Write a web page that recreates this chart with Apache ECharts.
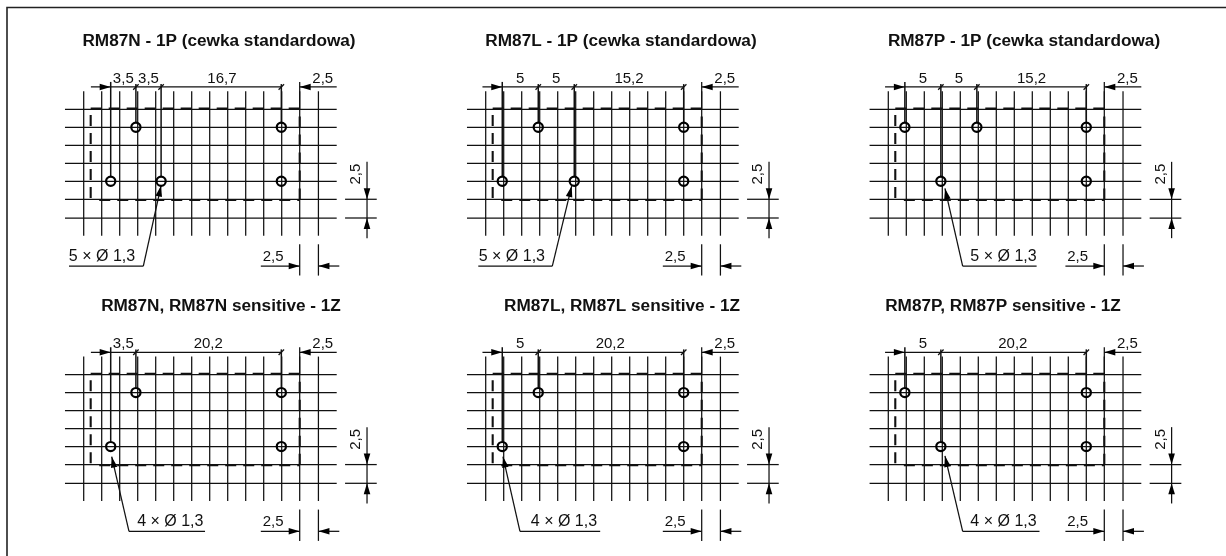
<!DOCTYPE html>
<html><head><meta charset="utf-8">
<style>html,body{margin:0;padding:0;background:#fff}#c{width:1226px;height:556px}</style>
<script src="https://cdn.jsdelivr.net/npm/echarts@6/dist/echarts.min.js"></script></head>
<body><div id="c"></div>
<script>
const titles = ['RM87N - 1P (cewka standardowa)','RM87L - 1P (cewka standardowa)','RM87P - 1P (cewka standardowa)',
  'RM87N, RM87N sensitive - 1Z','RM87L, RM87L sensitive - 1Z','RM87P, RM87P sensitive - 1Z'];
const gridColumnsMm = [0,2.5,5,7.5,10,12.5,15,17.5,20,22.5,25,27.5,30,32.6];
const gridRowsMm = [0,2.6,5.1,7.6,10.1,12.6,15.1];
// pin positions (mm)
const pins0 = [[3.75,5.1],[7.25,12.6],[10.75,5.1],[27.45,12.6],[27.45,5.1]];
const pins1 = [[2.3,5.1],[7.3,12.6],[12.3,5.1],[27.5,12.6],[27.5,5.1]];
const pins2 = [[2.3,12.6],[7.3,5.1],[12.3,12.6],[27.5,12.6],[27.5,5.1]];
const pins3 = [[3.75,5.1],[7.25,12.6],[27.45,12.6],[27.45,5.1]];
const pins4 = [[2.3,5.1],[7.3,12.6],[27.5,12.6],[27.5,5.1]];
const pins5 = [[2.3,12.6],[7.3,5.1],[27.5,12.6],[27.5,5.1]];
// pitch labels along the top: [x mm, text]
const pitch0 = [[5.5,'3,5'],[9,'3,5'],[19.2,'16,7'],[33.2,'2,5']];
const pitch1 = [[4.8,'5'],[9.8,'5'],[19.9,'15,2'],[33.2,'2,5']];
const pitch2 = [[4.8,'5'],[9.8,'5'],[19.9,'15,2'],[33.2,'2,5']];
const pitch3 = [[5.5,'3,5'],[17.3,'20,2'],[33.2,'2,5']];
const pitch4 = [[4.8,'5'],[17.3,'20,2'],[33.2,'2,5']];
const pitch5 = [[4.8,'5'],[17.3,'20,2'],[33.2,'2,5']];
// leader: tip x,y, knee x,y, underline far end x, text centre x
const leader0 = [10.75,4.5,8.28,-6.67,-2.04,2.54];
const leader1 = [11.94,4.44,9.25,-6.67,-1.03,3.63];
const leader2 = [7.87,4.1,10.33,-6.67,20.6,16.0];
const leader3 = [3.89,3.7,6.29,-6.67,16.85,12.03];
const leader4 = [2.4,3.7,4.76,-6.67,15.9,10.87];
const leader5 = [7.87,3.8,10.33,-6.67,21.0,16.0];
const leaderTexts = ['5 × Ø 1,3','5 × Ø 1,3','5 × Ø 1,3','4 × Ø 1,3','4 × Ø 1,3','4 × Ø 1,3'];
const dimText = '2,5';

const pinsAll=[pins0,pins1,pins2,pins3,pins4,pins5], pitchAll=[pitch0,pitch1,pitch2,pitch3,pitch4,pitch5],
      leaderAll=[leader0,leader1,leader2,leader3,leader4,leader5];
const SCALE=7.2, XMIN=-10, XMAX=43, YMIN=-9.5, YMAX=22;
const originsX=[83.7,485.7,888.3,83.7,485.7,888.3], originsY=[218,218,218,483.3,483.3,483.3];
const titleCx=[219,621,1024,221,622,1003], titleTop=[33,33,33,298,298,298];
const INK='#000';

function segSeries(i,data,width,dash){
  return {type:'custom',xAxisIndex:i,yAxisIndex:i,silent:true,clip:false,data,z:3,
    encode:{x:[0,2],y:[1,3]},
    renderItem(p,api){
      const a=api.coord([api.value(0),api.value(1)]),b=api.coord([api.value(2),api.value(3)]);
      return {type:'line',shape:{x1:a[0],y1:a[1],x2:b[0],y2:b[1]},
        style:{stroke:'#111',lineWidth:width,lineDash:dash||null,fill:null}};
    }};
}
function arrowSeries(i,data){
  return {type:'custom',xAxisIndex:i,yAxisIndex:i,silent:true,clip:false,data,z:5,
    encode:{x:[0,2],y:[1,3]},
    renderItem(p,api){
      const t=api.coord([api.value(0),api.value(1)]),o=api.coord([api.value(2),api.value(3)]);
      let dx=o[0]-t[0],dy=o[1]-t[1];const l=Math.hypot(dx,dy);dx/=l;dy/=l;
      const L=11,W=3.3;
      const bx=t[0]+dx*L,by=t[1]+dy*L;
      return {type:'polygon',shape:{points:[t,[bx-dy*W,by+dx*W],[bx+dy*W,by-dx*W]]},style:{fill:INK}};
    }};
}
function textSeries(i,data,rot,size){
  return {type:'custom',xAxisIndex:i,yAxisIndex:i,silent:true,clip:false,data,z:6,
    encode:{x:0,y:1},
    renderItem(p,api){
      const c=api.coord([api.value(0),api.value(1)]);
      return {type:'text',x:c[0],y:c[1],rotation:rot||0,
        style:{text:String(data[p.dataIndex][2]),x:0,y:0,align:'center',verticalAlign:'middle',
          fontFamily:'"Liberation Sans",Arial,sans-serif',fontSize:size||15,fill:'#111'}};
    }};
}

const option={animation:false,backgroundColor:'#fff',grid:[],xAxis:[],yAxis:[],series:[],
 title:titles.map((t,i)=>({text:t,left:titleCx[i],top:titleTop[i],textAlign:'center',padding:0,
   textStyle:{fontFamily:'"Liberation Sans",Arial,sans-serif',fontWeight:'bold',fontSize:17.2,color:'#111'}})),
 graphic:[{type:'polyline',shape:{points:[[7,556],[7,7.5],[1226,7.5]]},style:{fill:'none',stroke:'#222',lineWidth:1.6},silent:true}]};

titles.forEach((_,i)=>{
  option.grid.push({left:originsX[i]+XMIN*SCALE,top:originsY[i]-YMAX*SCALE,
    width:(XMAX-XMIN)*SCALE,height:(YMAX-YMIN)*SCALE,containLabel:false});
  option.xAxis.push({type:'value',gridIndex:i,min:XMIN,max:XMAX,show:false});
  option.yAxis.push({type:'value',gridIndex:i,min:YMIN,max:YMAX,show:false});

  const pins=pinsAll[i], L=leaderAll[i];
  const xs=[...new Set(pins.map(p=>p[0]))].sort((a,b)=>a-b);
  const right=30, dimY=18.2;
  // fine grid
  const thin=[];
  gridColumnsMm.forEach(x=>thin.push([x,-2.46,x,17.6]));
  gridRowsMm.forEach(y=>thin.push([-2.6,y,35.14,y]));
  // dimension lines
  thin.push([xs[0]-2.75,dimY,xs[xs.length-1]+0,dimY]);
  thin.push([right,dimY,35.14,dimY]);
  thin.push([right,dimY+0.7,right,15.1]);
  xs.slice(1).forEach(x=>thin.push([x-0.38,dimY-0.38,x+0.38,dimY+0.38]));
  // right-hand and bottom 2,5 dimensions
  thin.push([36.3,2.6,40.7,2.6],[36.3,0,40.7,0],[39.35,7.8,39.35,-2.8]);
  thin.push([24.6,-6.67,30,-6.67],[32.6,-6.67,35.5,-6.67],[30,-3.65,30,-8],[32.6,-3.65,32.6,-8]);
  // leader
  thin.push([L[0],L[1],L[2],L[3]],[L[2],L[3],L[4],L[3]]);
  option.series.push(segSeries(i,thin,1.25));
  // extension lines from the dimension line to the pins
  const ext=xs.map((x,k)=>{
    const ys=pins.filter(p=>p[0]===x).map(p=>p[1]);
    return [x,k===0?18.9:18.6,x,Math.max(...ys)+0.7];
  });
  option.series.push(segSeries(i,ext,1.5));
  // dashed relay outline
  option.series.push(segSeries(i,[[0.97,15.2,right,15.2],[2.16,2.5,right,2.5],[0.97,14.3,0.97,2.5],[right,14.1,right,2.5]],2.1,[11,7]));
  // arrows
  option.series.push(arrowSeries(i,[
    [xs[0],dimY,xs[0]-2,dimY],[right,dimY,right+2,dimY],
    [39.35,2.6,39.35,7],[39.35,0,39.35,-2],
    [right,-6.67,right-2,-6.67],[32.6,-6.67,34.6,-6.67],
    [L[0],L[1],L[2],L[3]]
  ]));
  // pins
  option.series.push({type:'scatter',xAxisIndex:i,yAxisIndex:i,silent:true,data:pins,z:7,clip:false,
    symbol:'circle',symbolSize:9.2,itemStyle:{color:'rgba(255,255,255,0)',borderColor:INK,borderWidth:2.2,opacity:1}});
  // labels
  option.series.push(textSeries(i,pitchAll[i].map(p=>[p[0],19.35,p[1]]).concat([[26.3,-5.35,dimText]])));
  option.series.push(textSeries(i,[[L[5],-5.35,leaderTexts[i]]],0,16));
  option.series.push(textSeries(i,[[37.8,6.1,dimText]],Math.PI/2));
});
const chart=echarts.init(document.getElementById('c'),null,{renderer:'canvas'});
chart.setOption(option);
</script></body></html>
